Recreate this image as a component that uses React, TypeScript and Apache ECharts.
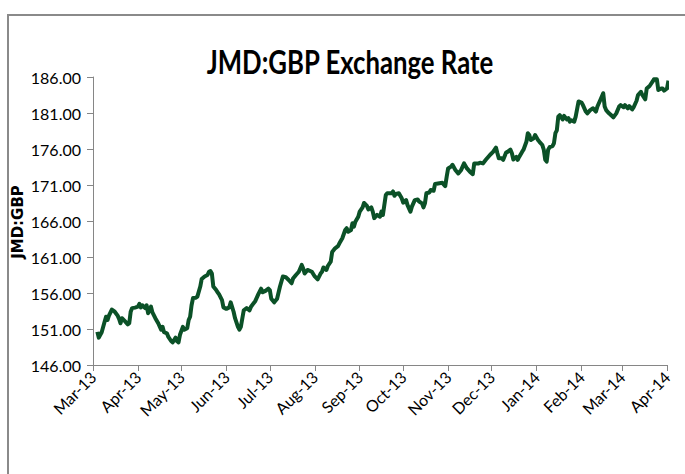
import React, { useEffect, useRef } from 'react';
import * as echarts from 'echarts';

const START = '2013-03-01';
const DAY = 86400000;

// days after 1 Mar 2013
const dayOffsets = [
  3, 4, 6, 8, 9, 10, 11, 13, 15, 17,
  18, 19, 20, 22, 24, 25, 26, 27, 29, 31,
  32, 33, 34, 36, 37, 38, 40, 41, 43, 45,
  47, 48, 49, 51, 52, 54, 55, 57, 58, 59,
  60, 62, 63, 65, 66, 67, 68, 69, 71, 72,
  74, 75, 77, 79, 80, 81, 82, 83, 85, 86,
  87, 89, 90, 92, 94, 95, 97, 98, 100, 101,
  102, 104, 106, 108, 109, 112, 114, 116, 117, 119,
  121, 122, 123, 125, 127, 129, 131, 133, 135, 137,
  138, 140, 142, 144, 145, 146, 148, 151, 153, 155,
  157, 158, 159, 161, 162, 164, 165, 167, 169, 170,
  171, 172, 174, 175, 176, 178, 179, 180, 181, 183,
  184, 186, 187, 189, 190, 192, 193, 194, 196, 198,
  199, 200, 202, 203, 206, 207, 208, 209, 211, 213,
  214, 216, 217, 219, 220, 222, 224, 225, 227, 228,
  229, 230, 232, 233, 235, 236, 239, 241, 243, 244,
  245, 247, 248, 250, 252, 254, 256, 258, 260, 262,
  263, 266, 267, 269, 271, 274, 276, 278, 279, 280,
  282, 283, 285, 286, 288, 289, 290, 292, 293, 294,
  296, 297, 299, 300, 301, 302, 304, 305, 307, 308,
  310, 311, 312, 313, 314, 315, 317, 318, 319, 320,
  321, 322, 324, 325, 327, 328, 329, 330, 332, 333,
  335, 337, 338, 340, 341, 343, 345, 347, 348, 350,
  352, 353, 354, 356, 358, 359, 361, 363, 364, 366,
  367, 369, 370, 372, 373, 375, 376, 378, 379, 381,
  382, 384, 386, 387, 389, 390, 392, 393, 394, 396, 397,
];

const rates = [
  150.6, 149.8, 150.55, 152.0, 152.7, 152.25, 152.85, 153.7, 153.4, 152.85,
  152.4, 151.8, 152.5, 152.1, 151.65, 151.8, 153.4, 153.9, 153.97, 154.1,
  154.5, 154.0, 154.3, 153.9, 154.3, 153.2, 154.1, 153.3, 152.5, 151.8,
  150.9, 151.3, 150.55, 150.4, 149.9, 149.3, 149.15, 149.8, 149.3, 149.15,
  150.2, 151.3, 150.9, 151.1, 152.25, 152.7, 154.3, 155.3, 155.35, 155.5,
  156.9, 157.95, 158.3, 158.5, 158.95, 159.05, 158.7, 156.9, 156.4, 156.1,
  155.8, 155.0, 154.0, 153.8, 154.0, 154.7, 153.4, 152.5, 151.3, 150.9,
  151.3, 153.6, 153.9, 153.6, 154.1, 154.9, 155.8, 156.6, 156.1, 156.3,
  156.6, 156.4, 155.2, 154.7, 155.2, 156.9, 158.3, 158.2, 157.8, 157.35,
  158.0, 158.5, 158.95, 159.9, 159.4, 158.7, 159.2, 158.95, 158.3, 157.9,
  158.7, 158.95, 159.55, 159.2, 159.75, 160.35, 161.7, 162.2, 162.5, 162.9,
  163.25, 163.6, 164.75, 165.0, 164.5, 164.75, 165.7, 165.2, 165.9, 166.6,
  167.3, 167.9, 168.5, 168.1, 167.6, 167.9, 167.3, 166.4, 166.85, 166.6,
  167.3, 166.85, 169.6, 169.85, 169.85, 170.1, 169.5, 169.75, 169.85, 169.15,
  168.55, 168.9, 168.2, 167.3, 168.0, 168.9, 169.0, 168.7, 168.45, 167.9,
  168.45, 169.85, 169.95, 170.3, 170.2, 171.15, 171.25, 171.3, 170.85, 172.15,
  173.3, 173.55, 173.8, 173.1, 172.6, 173.1, 174.0, 173.3, 172.85, 172.5,
  174.0, 174.0, 174.1, 174.0, 174.5, 175.2, 175.6, 176.2, 175.4, 174.7,
  174.7, 174.5, 175.5, 175.6, 175.9, 175.4, 174.55, 174.9, 174.5, 174.9,
  175.6, 175.9, 177.0, 178.2, 177.95, 177.25, 177.5, 177.95, 177.25, 177.0,
  176.55, 175.9, 174.5, 174.25, 175.9, 176.25, 176.4, 176.8, 178.2, 178.6,
  180.5, 180.7, 180.1, 180.6, 180.1, 180.3, 179.8, 180.0, 179.8, 180.5,
  182.6, 182.45, 182.1, 181.2, 180.95, 181.4, 181.65, 181.2, 181.9, 182.8,
  183.75, 181.9, 181.4, 180.95, 180.6, 180.4, 180.95, 181.9, 182.1, 181.8,
  182.1, 181.65, 181.95, 181.5, 181.8, 182.7, 183.5, 183.95, 183.5, 182.9,
  184.4, 184.75, 185.35, 185.7, 185.7, 184.2, 184.4, 184.4, 184.1, 184.4, 185.5,
];

const monthTicks = [
  '2013-03-01', '2013-04-01', '2013-05-01', '2013-06-01', '2013-07-01',
  '2013-08-01', '2013-09-01', '2013-10-01', '2013-11-01', '2013-12-01',
  '2014-01-01', '2014-02-01', '2014-03-01', '2014-04-01',
];

const monthLabels = [
  'Mar-13', 'Apr-13', 'May-13', 'Jun-13', 'Jul-13', 'Aug-13', 'Sep-13',
  'Oct-13', 'Nov-13', 'Dec-13', 'Jan-14', 'Feb-14', 'Mar-14', 'Apr-14',
];

const Y_MIN = 146;
const Y_MAX = 186;
const Y_STEP = 5;

const FONT = 'Lato, "Open Sans", sans-serif';

export default function App() {
  const ref = useRef<HTMLDivElement>(null);

  useEffect(() => {
    document.body.style.margin = '0';
    const chart = echarts.init(ref.current!, null, { renderer: 'svg' });
    const t0 = Date.parse(START + 'T00:00:00Z');
    const tickDays = monthTicks.map((s) => Math.round((Date.parse(s + 'T00:00:00Z') - t0) / DAY));
    const labelOf = (v: number) => {
      const i = tickDays.indexOf(Math.round(v));
      return i >= 0 ? monthLabels[i] : '';
    };
    const data = dayOffsets.map((d, i) => [d, rates[i]]);
    const axisGray = '#868686';

    chart.setOption({
      animation: false,
      backgroundColor: '#ffffff',
      grid: { left: 93, right: 18, top: 77, bottom: 109 },
      xAxis: {
        type: 'value',
        min: tickDays[0],
        max: tickDays[tickDays.length - 1],
        axisLine: { show: true, onZero: false, lineStyle: { color: axisGray, width: 1 } },
        axisTick: { show: true, customValues: tickDays, length: 6, lineStyle: { color: axisGray } },
        axisLabel: {
          customValues: tickDays,
          rotate: 45,
          margin: 9,
          color: '#000',
          fontFamily: FONT,
          fontSize: 16,
          formatter: (v: number) => labelOf(v),
        },
        splitLine: { show: false },
      },
      yAxis: {
        type: 'value',
        min: Y_MIN,
        max: Y_MAX,
        interval: Y_STEP,
        axisLine: { show: true, lineStyle: { color: axisGray, width: 1 } },
        axisTick: { show: true, length: 6, lineStyle: { color: axisGray } },
        axisLabel: {
          margin: 12,
          color: '#000',
          fontFamily: FONT,
          fontSize: 16,
          formatter: (v: number) => v.toFixed(2),
        },
        splitLine: { show: false },
      },
      series: [
        {
          type: 'line',
          data,
          symbol: 'none',
          showSymbol: false,
          lineStyle: { color: '#0b5127', width: 4, join: 'round' },
          itemStyle: { color: '#0b5127' },
        },
      ],
      graphic: [
        {
          type: 'rect',
          shape: { x: 8, y: 15, width: 700, height: 480 },
          style: { fill: 'none', stroke: '#8a8a8a', lineWidth: 2 },
          silent: true,
        },
        {
          type: 'text',
          x: 350,
          y: 61,
          scaleX: 0.78,
          style: {
            text: 'JMD:GBP Exchange Rate',
            font: 'bold 33px ' + FONT,
            fill: '#000',
            align: 'center',
            verticalAlign: 'middle',
          },
        },
        {
          type: 'text',
          x: 18,
          y: 222,
          rotation: Math.PI / 2,
          style: {
            text: 'JMD:GBP',
            font: 'bold 15px "DejaVu Sans", sans-serif',
            fill: '#000',
            align: 'center',
            verticalAlign: 'middle',
          },
        },
      ],
    });
    return () => chart.dispose();
  }, []);

  return <div ref={ref} style={{ width: 685, height: 474 }} />;
}
